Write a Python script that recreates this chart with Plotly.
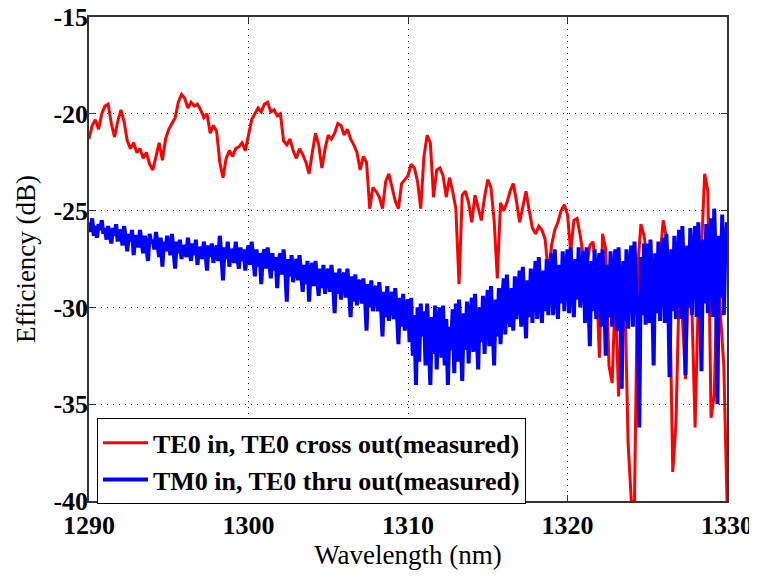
import numpy as np
import plotly.graph_objects as go

# Wavelength grids (nm)
wl_red = np.round(np.arange(1290.0, 1330.0 + 1e-9, 0.2), 1)
wl_blue = np.round(np.arange(1290.0, 1330.0 + 1e-9, 0.1), 1)

# TE0 in, TE0 cross out (measured), dB — sampled every 0.2 nm
te_cross = [
    -21.3, -20.6, -20.3, -20.8, -20.0,
    -19.6, -19.5, -20.5, -21.2, -20.4,
    -19.8, -20.4, -21.4, -21.8, -21.5,
    -22.0, -21.8, -22.3, -22.0, -22.6,
    -22.9, -22.2, -21.5, -22.4, -21.3,
    -20.8, -20.5, -20.2, -19.4, -19.0,
    -19.2, -19.7, -19.4, -19.6, -19.5,
    -19.8, -20.2, -20.0, -21.0, -20.6,
    -20.9, -22.5, -23.3, -22.3, -21.9,
    -22.2, -21.8, -21.7, -21.5, -21.9,
    -21.1, -20.3, -20.0, -19.7, -19.9,
    -19.5, -19.4, -19.9, -19.8, -20.1,
    -20.0, -21.4, -21.6, -21.3, -21.9,
    -22.3, -21.8, -22.1, -22.5, -23.1,
    -22.0, -21.0, -21.6, -22.8, -21.8,
    -21.1, -21.3, -21.0, -20.5, -20.6,
    -21.1, -20.8, -21.3, -21.6, -22.0,
    -22.9, -22.2, -22.5, -24.9, -23.8,
    -24.0, -24.3, -24.9, -23.5, -23.1,
    -23.8, -24.5, -24.9, -23.6, -23.4,
    -23.2, -22.6, -22.8, -23.5, -24.9,
    -22.2, -21.1, -21.5, -24.3, -22.9,
    -22.8, -23.2, -24.3, -23.3, -24.0,
    -24.9, -28.8, -24.2, -24.0, -24.6,
    -25.6, -24.2, -24.8, -25.5, -24.3,
    -23.4, -23.8, -25.5, -28.5, -24.6,
    -25.0, -24.6, -24.0, -23.6, -24.5,
    -25.6, -24.8, -24.0, -25.0, -25.9,
    -26.2, -25.8, -26.0, -26.5, -28.3,
    -26.8, -26.0, -25.6, -25.0, -24.7,
    -25.2, -27.1, -25.5, -25.4, -26.3,
    -27.4, -28.0, -26.8, -26.6, -28.2,
    -32.6, -26.2, -27.0, -33.0, -33.9,
    -29.0, -34.6, -30.0, -29.5, -37.0,
    -40.0, -40.0, -28.0, -25.7, -26.3,
    -27.5, -29.0, -31.0, -28.5, -27.5,
    -25.5, -26.4, -29.0, -38.5, -36.0,
    -29.0, -30.5, -33.7, -28.0, -30.0,
    -36.2, -29.5, -27.0, -23.1, -24.0,
    -35.7, -34.5, -28.0, -30.5, -33.0,
    -40.0,
]

# TM0 in, TE0 thru out (measured), dB — sampled every 0.1 nm
tm_thru = [
    -25.6, -26.1, -25.4, -26.3, -25.8, -26.4, -25.7, -26.0, -25.5, -26.2,
    -25.9, -26.5, -25.8, -26.2, -26.7, -25.9, -26.3, -25.7, -26.6, -26.0,
    -26.1, -26.8, -25.8, -26.4, -27.1, -26.2, -26.6, -26.0, -27.3, -26.3,
    -26.4, -26.9, -26.0, -26.7, -27.2, -26.3, -26.8, -27.6, -26.2, -26.7,
    -26.5, -27.0, -26.1, -26.8, -27.4, -26.4, -27.9, -26.6, -27.1, -26.3,
    -26.7, -27.3, -26.2, -27.0, -28.0, -26.6, -27.2, -26.5, -27.5, -26.8,
    -26.9, -27.4, -26.4, -27.1, -27.6, -26.7, -27.3, -26.5, -27.8, -26.9,
    -27.0, -27.5, -26.6, -27.2, -28.1, -26.8, -27.4, -26.7, -27.7, -27.1,
    -26.8, -27.6, -26.3, -27.3, -28.6, -26.9, -27.5, -26.6, -27.9, -27.0,
    -27.1, -27.7, -26.6, -27.4, -28.0, -26.9, -27.6, -27.0, -28.1, -27.2,
    -26.8, -27.8, -26.6, -27.5, -28.4, -27.0, -27.9, -27.2, -28.8, -27.3,
    -27.0, -28.0, -26.9, -27.7, -28.5, -27.2, -28.1, -27.4, -29.0, -27.5,
    -27.2, -28.3, -27.0, -28.0, -29.7, -27.5, -28.4, -27.3, -28.7, -27.8,
    -27.5, -28.6, -27.3, -28.3, -29.2, -27.8, -28.8, -27.6, -29.7, -28.1,
    -27.7, -28.9, -27.6, -28.5, -29.4, -28.0, -29.0, -27.8, -29.3, -28.3,
    -28.0, -29.2, -27.8, -28.7, -30.3, -28.2, -29.3, -28.0, -29.6, -28.5,
    -28.2, -29.5, -28.0, -29.0, -30.5, -28.4, -29.7, -28.3, -29.9, -28.7,
    -28.6, -29.8, -28.5, -29.4, -31.2, -28.8, -30.0, -28.6, -30.2, -29.1,
    -28.9, -30.2, -28.7, -29.8, -31.5, -29.2, -30.5, -28.9, -30.7, -29.5,
    -29.2, -30.6, -29.0, -30.2, -31.9, -29.5, -31.0, -29.3, -31.2, -29.8,
    -29.6, -31.8, -29.5, -32.5, -30.4, -34.0, -30.0, -32.8, -29.8, -31.5,
    -30.2, -33.0, -29.8, -31.6, -34.0, -30.5, -32.4, -29.9, -33.2, -30.8,
    -30.0, -32.6, -29.9, -33.0, -30.6, -34.0, -31.0, -32.2, -30.1, -33.4,
    -29.8, -32.8, -29.6, -31.5, -33.8, -30.3, -32.2, -29.7, -32.9, -30.6,
    -29.5, -32.3, -29.3, -31.2, -33.2, -30.0, -31.8, -29.4, -32.4, -30.2,
    -29.1, -32.0, -28.9, -30.8, -33.0, -29.6, -31.5, -29.0, -31.9, -29.8,
    -28.5, -31.4, -28.3, -30.2, -31.0, -29.0, -31.2, -28.4, -30.6, -29.2,
    -28.1, -31.0, -27.9, -29.8, -31.6, -28.6, -30.5, -28.0, -30.8, -28.9,
    -27.6, -30.6, -27.4, -29.3, -30.8, -28.1, -30.2, -27.5, -30.4, -28.4,
    -27.2, -30.4, -27.0, -29.0, -30.6, -27.8, -29.8, -27.1, -30.2, -28.1,
    -27.0, -30.3, -26.9, -28.8, -30.5, -27.5, -29.6, -26.9, -30.0, -27.8,
    -27.1, -30.8, -26.9, -29.1, -32.0, -27.6, -30.2, -27.0, -30.6, -28.0,
    -27.2, -31.0, -27.0, -29.4, -32.5, -27.8, -30.5, -27.1, -31.0, -28.2,
    -27.0, -31.2, -26.9, -29.3, -34.2, -27.6, -30.7, -27.0, -31.1, -28.0,
    -26.8, -31.0, -26.6, -29.0, -30.8, -36.2, -27.4, -30.4, -26.7, -30.9,
    -26.7, -30.8, -26.5, -28.8, -33.0, -27.2, -30.3, -26.6, -30.7, -27.8,
    -26.4, -30.8, -26.2, -28.6, -33.6, -27.0, -30.2, -26.3, -30.6, -27.6,
    -26.0, -30.6, -25.8, -28.4, -33.5, -26.8, -30.0, -25.9, -30.4, -27.3,
    -25.8, -30.5, -25.6, -28.2, -33.3, -26.5, -29.8, -25.7, -30.3, -27.0,
    -25.4, -30.5, -24.9, -28.0, -35.0, -26.3, -29.5, -25.2, -30.4, -26.8,
    -25.6,
]

series_names = ["TE0 in, TE0 cross out(measured)", "TM0 in, TE0 thru out(measured)"]
x_ticks = [1290, 1300, 1310, 1320, 1330]
x_ticklabels = ["1290", "1300", "1310", "1320", "1330"]
y_ticks = [-40, -35, -30, -25, -20, -15]
y_ticklabels = ["-40", "-35", "-30", "-25", "-20", "-15"]

SERIF = "Liberation Serif"

fig = go.Figure()
fig.add_trace(go.Scatter(x=wl_red, y=te_cross, mode="lines", name=series_names[0],
                         line=dict(color="#ff0000", width=3)))
fig.add_trace(go.Scatter(x=wl_blue, y=tm_thru, mode="lines", name=series_names[1],
                         line=dict(color="#0000ff", width=4)))

axis_common = dict(
    showline=True, linecolor="#333333", linewidth=1.5, mirror="ticks",
    ticks="inside", ticklen=6, tickwidth=1, tickcolor="#333333",
    showgrid=True, gridcolor="#000000", griddash="1px,5px", gridwidth=1.2,
    zeroline=False, automargin=False, ticklabeloverflow="allow",
    tickfont=dict(family=SERIF, size=26, color="black", weight="bold"),
)

fig.update_layout(
    width=757, height=584,
    margin=dict(l=81, r=38, t=9, b=91),
    paper_bgcolor="white", plot_bgcolor="white",
    xaxis=dict(range=[1290, 1330], tickvals=x_ticks, ticktext=x_ticklabels,
               title=dict(text="Wavelength (nm)", font=dict(family=SERIF, size=27, color="black"), standoff=6),
               **axis_common),
    yaxis=dict(range=[-40, -15], tickvals=y_ticks, ticktext=y_ticklabels, ticklabelstandoff=-6,
               title=dict(text="Efficiency (dB)", font=dict(family=SERIF, size=27, color="black"), standoff=10),
               **axis_common),
    legend=dict(x=0.0125, y=0.171, xanchor="left", yanchor="top",
                bgcolor="white", bordercolor="black", borderwidth=1,
                font=dict(family=SERIF, size=26, color="black", weight="bold"),
                itemwidth=45, tracegroupgap=0),
    showlegend=True,
)

fig.write_html("out.html")
